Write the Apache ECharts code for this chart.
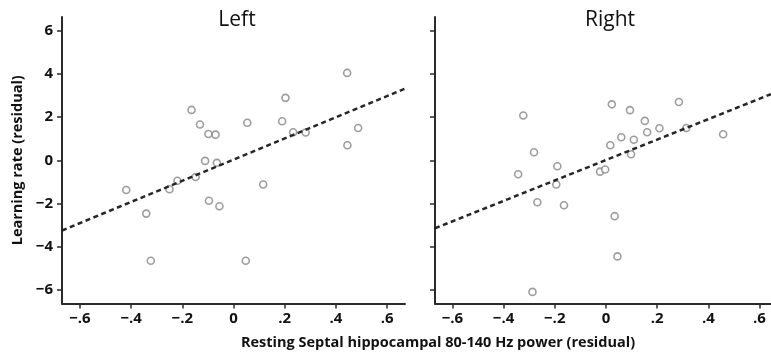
<!DOCTYPE html>
<html>
<head>
<meta charset="utf-8">
<script src="https://cdn.jsdelivr.net/npm/echarts@6/dist/echarts.min.js"></script>
<style>
  html, body { margin: 0; padding: 0; background: #fff; }
  #chart { width: 771px; height: 358px; }
</style>
</head>
<body>
<div id="chart"></div>
<script>
// Left hemisphere: [power residual, learning rate residual]
const leftPoints = [
  [0.444, 4.06], [-0.164, 2.34], [0.203, 2.90], [-0.131, 1.66],
  [-0.098, 1.22], [-0.070, 1.19], [0.054, 1.74], [0.190, 1.81],
  [0.233, 1.30], [0.282, 1.29], [0.487, 1.50], [0.445, 0.70],
  [-0.111, -0.03], [-0.065, -0.12], [-0.219, -0.95], [-0.148, -0.78],
  [-0.419, -1.38], [-0.250, -1.35], [0.116, -1.13], [-0.096, -1.88],
  [-0.055, -2.14], [-0.341, -2.48], [-0.323, -4.67], [0.048, -4.67]
];
// Right hemisphere
const rightPoints = [
  [-0.323, 2.08], [0.023, 2.60], [0.094, 2.33], [0.285, 2.71],
  [0.152, 1.83], [0.209, 1.49], [0.161, 1.30], [0.314, 1.50],
  [0.458, 1.21], [0.060, 1.07], [0.109, 0.95], [0.017, 0.70],
  [0.098, 0.28], [-0.281, 0.37], [-0.190, -0.28], [-0.023, -0.53],
  [-0.003, -0.43], [-0.343, -0.65], [-0.194, -1.13], [-0.268, -1.95],
  [-0.164, -2.09], [0.034, -2.60], [0.045, -4.47], [-0.287, -6.12]
];
// fitted lines: [slope, intercept]
const leftFit = [4.92, 0.03];
const rightFit = [4.75, 0.01];

const xTicks = [-0.6, -0.4, -0.2, 0, 0.2, 0.4, 0.6];
const yTicks = [-6, -4, -2, 0, 2, 4, 6];
const leftRange = [-0.67, 0.67];
const rightRange = [-0.668, 0.645];
const yRange = [-6.66, 6.66];

const font = '"Open Sans", "Noto Sans", sans-serif';
const axisColor = '#2b2b2b';

function fmtX(v) {
  if (Math.abs(v) < 1e-9) return '0';
  return (v < 0 ? '\u2212' : '') + '.' + Math.round(Math.abs(v) * 10);
}
function fmtY(v) {
  return v < 0 ? '\u2212' + (-v) : String(v);
}
function fitLine(fit, range) {
  return range.map(x => [x, fit[0] * x + fit[1]]);
}

function xAxis(idx, range) {
  return {
    type: 'value', gridIndex: idx, min: range[0], max: range[1],
    axisLine: { show: true, onZero: false, lineStyle: { color: axisColor, width: 2 } },
    axisTick: { show: true, length: 5, customValues: xTicks, lineStyle: { color: axisColor, width: 1.5 } },
    axisLabel: {
      customValues: xTicks, formatter: fmtX, margin: 8,
      color: '#111', fontWeight: 'bold', fontSize: 15, fontFamily: font
    },
    splitLine: { show: false }
  };
}
function yAxis(idx, showLabels) {
  return {
    type: 'value', gridIndex: idx, min: yRange[0], max: yRange[1],
    name: showLabels ? 'Learning rate (residual)' : '',
    nameLocation: 'middle', nameGap: 37, nameRotate: 90,
    nameTextStyle: { color: '#111', fontWeight: 'bold', fontSize: 14.5, fontFamily: font },
    axisLine: { show: true, onZero: false, lineStyle: { color: axisColor, width: 2 } },
    axisTick: { show: true, length: 5, customValues: yTicks, lineStyle: { color: axisColor, width: 1.5 } },
    axisLabel: {
      show: showLabels, customValues: yTicks, formatter: fmtY, margin: 9,
      color: '#111', fontWeight: 'bold', fontSize: 15, fontFamily: font
    },
    splitLine: { show: false }
  };
}
function scatter(idx, data) {
  return {
    type: 'scatter', xAxisIndex: idx, yAxisIndex: idx, data: data,
    symbol: 'circle', symbolSize: 7, silent: true,
    itemStyle: { color: '#fff', borderColor: '#858585', borderWidth: 1.6 },
    z: 2
  };
}
function dashed(idx, fit, range) {
  return {
    type: 'line', xAxisIndex: idx, yAxisIndex: idx, data: fitLine(fit, range),
    symbol: 'none', silent: true,
    lineStyle: { color: '#262626', width: 2.5, type: [5, 3.5] },
    z: 3
  };
}

const chart = echarts.init(document.getElementById('chart'));
chart.setOption({
  animation: false,
  backgroundColor: '#fff',
  title: [
    { text: 'Left', left: 232, top: 5, textAlign: 'center',
      textStyle: { fontSize: 21, fontWeight: 'normal', color: '#111', fontFamily: font } },
    { text: 'Right', left: 605, top: 5, textAlign: 'center',
      textStyle: { fontSize: 21, fontWeight: 'normal', color: '#111', fontFamily: font } },
    { text: 'Resting Septal hippocampal 80-140 Hz power (residual)', left: 433, top: 330, textAlign: 'center',
      textStyle: { fontSize: 14.5, fontWeight: 'bold', color: '#111', fontFamily: font } }
  ],
  grid: [
    { left: 62, top: 17, width: 343, height: 286.5 },
    { left: 435, top: 17, width: 336, height: 286.5 }
  ],
  xAxis: [xAxis(0, leftRange), xAxis(1, rightRange)],
  yAxis: [yAxis(0, true), yAxis(1, false)],
  series: [
    scatter(0, leftPoints),
    dashed(0, leftFit, leftRange),
    scatter(1, rightPoints),
    dashed(1, rightFit, rightRange)
  ]
});
</script>
</body>
</html>
